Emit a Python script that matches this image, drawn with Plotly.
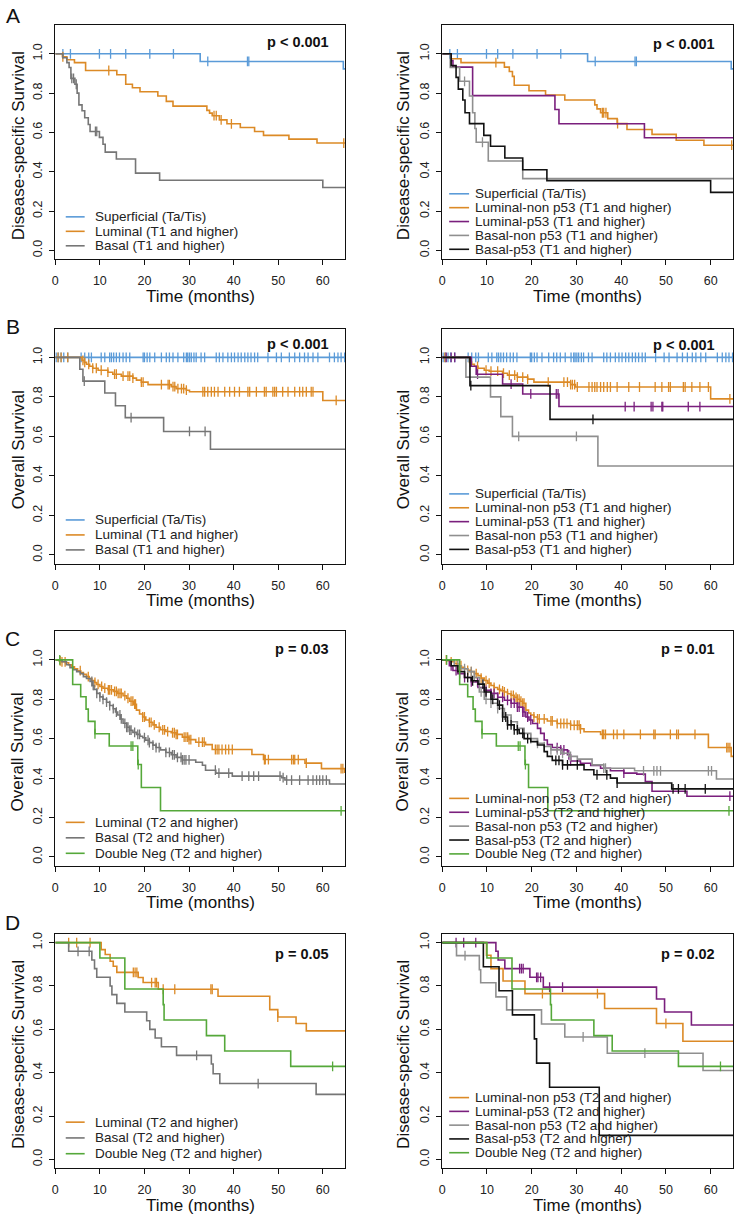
import numpy as np
import plotly.graph_objects as go

FONT = "Liberation Sans, Arial, Helvetica, sans-serif"
W, H = 735, 1217

C_SUP = "#5b9bd8"
C_LUM = "#dc8a26"
C_LP53 = "#7a1f7d"
C_BAS = "#767676"
C_BNP = "#8f8f8f"
C_BP53 = "#111111"
C_DN = "#55a83a"

X_END = 65
FOLLOW_END = 66

# ---------------- Panel A (disease-specific, T1 and higher) ----------------
A_SUP_T = [32.5, 64.6]
A_SUP_S = [0.961, 0.923]
A_SUP_C = [1.7, 3.4, 9.9, 12.4, 15.8, 21.2, 26.5, 34.2, 43.1, 43.4]

A_LUM_T = [1.6, 2.6, 4.3, 6.8, 13.8, 15.8, 17.3, 19.0, 23.0, 24.9, 26.4, 34.0, 34.6, 35.2, 36.8,
           38.5, 41.5, 44.7, 46.7, 52.4, 58.7]
A_LUM_S = [0.985, 0.97, 0.955, 0.915, 0.893, 0.845, 0.827, 0.807, 0.785, 0.758, 0.734, 0.712, 0.698,
           0.685, 0.664, 0.644, 0.625, 0.605, 0.585, 0.566, 0.546]
A_LUM_C = [1.7, 12.0, 35.6, 36.1, 37.2, 39.5, 64.7]

A_BAS_T = [1.7, 2.6, 3.1, 3.5, 4.4, 4.9, 5.3, 6.0, 6.6, 7.4, 7.8, 9.9, 10.7, 11.2, 13.7, 18.0, 23.4, 60.0]
A_BAS_S = [0.98, 0.955, 0.93, 0.875, 0.845, 0.80, 0.74, 0.71, 0.675, 0.64, 0.605, 0.575, 0.54, 0.50,
           0.465, 0.393, 0.357, 0.32]
A_BAS_C = [3.7, 4.1, 4.7, 9.0, 9.3]

A_LNP_T = [2.0, 4.2, 13.9, 15.0, 15.7, 16.1, 19.4, 23.1, 27.4, 34.1, 34.6, 35.4, 37.0, 39.1, 41.3,
           46.9, 52.3, 58.5]
A_LNP_S = [0.975, 0.955, 0.932, 0.91, 0.885, 0.84, 0.812, 0.79, 0.765, 0.74, 0.72, 0.70, 0.67, 0.645,
           0.615, 0.59, 0.56, 0.535]
A_LNP_C = [12.0, 35.8, 36.1, 36.6, 39.2, 64.7]

A_LP_T = [2.0, 2.4, 6.8, 25.2, 26.1, 45.2]
A_LP_S = [0.965, 0.932, 0.787, 0.717, 0.644, 0.573]
A_LP_C = []

A_BNP_T = [1.8, 3.9, 6.1, 6.8, 7.3, 7.6, 10.3, 18.0]
A_BNP_S = [0.93, 0.86, 0.785, 0.70, 0.62, 0.55, 0.455, 0.365]
A_BNP_C = [5.0, 9.0]

A_BP_T = [2.0, 3.1, 3.6, 4.6, 5.1, 6.1, 9.3, 10.8, 14.0, 18.0, 23.4, 60.0]
A_BP_S = [0.94, 0.88, 0.82, 0.765, 0.70, 0.645, 0.585, 0.53, 0.47, 0.41, 0.355, 0.295]
A_BP_C = []

# ---------------- Panel B (overall, T1 and higher) ----------------
B_SUP_T = []
B_SUP_S = []
B_SUP_C = [0.2, 0.7, 1.3, 1.9, 2.8, 5.8, 6.6, 7.5, 8.1, 10.3, 11.1, 12.2, 12.6, 13.1, 13.7, 14.4, 15.2,
           15.9, 16.7, 19.7, 20.0, 20.6, 21.2, 22.3, 23.8, 24.9, 25.6, 26.4, 27.5, 28.8, 29.4, 29.7,
           30.1, 30.5, 31.1, 31.6, 32.7, 33.5, 36.1, 36.8, 37.6, 38.7, 39.5, 40.2, 41.0, 41.7, 42.5,
           43.2, 43.9, 44.7, 45.4, 47.7, 49.6, 50.7, 52.5, 53.7, 54.8, 55.9, 56.7, 57.8, 58.9, 61.5,
           62.6, 63.4, 64.1, 64.9]

B_LUM_T = [6.0, 6.5, 7.0, 7.7, 8.4, 9.6, 11.8, 12.9, 14.8, 17.4, 18.2, 19.3, 20.8, 26.0, 27.1, 29.4,
           30.1, 60.0]
B_LUM_S = [0.985, 0.975, 0.965, 0.955, 0.945, 0.935, 0.925, 0.915, 0.905, 0.895, 0.885, 0.875, 0.862,
           0.852, 0.842, 0.834, 0.826, 0.782]
B_LUM_C = [0.6, 1.3, 2.8, 6.2, 6.6, 7.5, 8.4, 9.2, 10.3, 11.8, 13.3, 13.7, 15.2, 16.3, 16.7, 17.4, 19.3,
           19.7, 23.8, 25.3, 25.6, 26.4, 26.8, 27.5, 28.3, 28.8, 29.4, 33.1, 33.5, 34.2, 35.0, 35.7,
           36.5, 38.0, 39.1, 40.2, 41.3, 43.2, 43.6, 45.1, 46.9, 47.3, 48.8, 49.2, 49.6, 51.0, 52.2,
           53.7, 54.8, 55.5, 56.3, 57.4, 57.8, 63.0]

B_BAS_T = [5.5, 6.2, 11.1, 13.5, 15.7, 24.3, 34.8]
B_BAS_S = [0.94, 0.88, 0.82, 0.755, 0.695, 0.625, 0.535]
B_BAS_C = [6.5, 17.0, 30.1, 33.6]

B_LNP_T = [6.1, 6.6, 7.2, 8.0, 9.4, 10.5, 13.5, 14.6, 16.8, 19.1, 20.5, 28.7, 29.8, 60.0]
B_LNP_S = [0.975, 0.965, 0.955, 0.945, 0.935, 0.93, 0.92, 0.91, 0.90, 0.89, 0.875, 0.862, 0.85, 0.79]
B_LNP_C = [0.6, 6.3, 7.9, 9.8, 10.9, 12.4, 13.7, 15.0, 16.2, 16.8, 18.0, 19.1, 23.7, 27.2, 28.0, 28.7,
           29.1, 29.6, 30.2, 32.8, 33.5, 34.1, 34.6, 35.4, 36.1, 36.9, 37.6, 39.1, 41.7, 44.1, 47.6,
           49.1, 50.6, 51.0, 53.9, 54.3, 55.8, 57.6, 59.5, 64.3]

B_LP_T = [6.5, 7.6, 13.5, 18.0, 26.1]
B_LP_S = [0.955, 0.915, 0.865, 0.815, 0.751]
B_LP_C = [0.9, 2.0, 2.8, 7.9, 15.4, 19.8, 25.5, 25.9, 40.9, 42.9, 46.7, 47.1, 49.1, 49.3, 55.0, 57.6]

B_BNP_T = [5.3, 10.8, 13.1, 15.7, 34.8]
B_BNP_S = [0.90, 0.80, 0.70, 0.60, 0.45]
B_BNP_C = [17.1, 30.0]

B_BP_T = [6.2, 24.1]
B_BP_S = [0.857, 0.686]
B_BP_C = [6.4, 33.7]

# ---------------- Panel C (overall, T2 and higher) ----------------
C_LUM_T = [0.8, 1.5, 2.3, 3.0, 3.6, 4.3, 5.0, 5.7, 6.3, 7.0, 7.6, 8.2, 8.8, 9.3, 10.0, 10.7, 11.8,
           13.0, 14.0, 15.2, 16.0, 16.7, 17.5, 18.2, 18.9, 19.6, 20.3, 21.1, 21.9, 22.6, 23.6, 24.8,
           26.0, 27.1, 28.5, 30.0, 31.5, 33.7, 35.2, 44.1, 46.7, 56.0, 59.7, 64.9]
C_LUM_S = [0.995, 0.99, 0.985, 0.975, 0.965, 0.955, 0.945, 0.935, 0.926, 0.915, 0.905, 0.895, 0.885,
           0.875, 0.865, 0.856, 0.848, 0.84, 0.83, 0.818, 0.805, 0.79, 0.775, 0.745, 0.725, 0.71,
           0.695, 0.683, 0.67, 0.658, 0.645, 0.636, 0.63, 0.622, 0.608, 0.595, 0.582, 0.57, 0.545,
           0.52, 0.494, 0.476, 0.448, 0.43]
C_LUM_C = [1.1, 1.5, 2.2, 5.6, 7.4, 8.9, 9.6, 10.4, 11.1, 11.9, 12.2, 12.6, 13.3, 13.7, 14.1, 14.5,
           14.8, 15.6, 16.3, 17.0, 17.4, 17.8, 18.0, 19.6, 20.0, 21.1, 21.5, 22.2, 23.3, 24.1, 24.5,
           25.2, 26.3, 26.7, 27.1, 27.4, 28.9, 29.3, 29.7, 30.0, 30.4, 32.2, 33.0, 33.4, 35.9, 36.3,
           36.7, 37.4, 38.2, 38.9, 39.7, 46.9, 47.1, 47.8, 53.0, 53.4, 53.7, 54.5, 56.3, 64.1, 64.5]

C_BAS_T = [1.5, 2.5, 3.3, 4.0, 4.8, 5.6, 6.3, 7.0, 7.8, 8.3, 8.7, 9.3, 10.0, 10.7, 11.5, 12.2, 13.0,
           13.5, 14.0, 14.6, 15.2, 16.0, 16.7, 17.4, 18.2, 19.0, 19.6, 20.3, 21.1, 21.9, 22.6, 23.6,
           24.8, 26.0, 27.1, 28.5, 31.5, 33.0, 33.7, 36.0, 39.7, 50.8, 51.5, 61.5]
C_BAS_S = [0.99, 0.975, 0.96, 0.95, 0.94, 0.93, 0.915, 0.905, 0.89, 0.87, 0.85, 0.83, 0.812, 0.80,
           0.785, 0.768, 0.752, 0.735, 0.72, 0.70, 0.678, 0.658, 0.643, 0.632, 0.622, 0.612, 0.605,
           0.592, 0.58, 0.567, 0.555, 0.543, 0.53, 0.518, 0.505, 0.492, 0.48, 0.465, 0.44, 0.425,
           0.41, 0.402, 0.39, 0.37]
C_BAS_C = [8.2, 8.5, 9.3, 10.0, 10.7, 11.5, 12.2, 13.0, 13.7, 14.5, 14.8, 15.6, 16.0, 16.3, 16.7,
           17.0, 17.8, 18.5, 18.9, 20.0, 20.8, 21.1, 21.9, 22.6, 23.3, 24.8, 25.6, 26.3, 26.7, 27.4,
           28.2, 28.5, 28.9, 29.3, 30.0, 35.9, 36.7, 38.9, 41.9, 43.4, 44.5, 45.6, 50.4, 51.1, 51.9,
           53.0, 54.8, 56.7, 57.8, 58.6, 59.3, 60.0, 60.8]

C_DN_T = [3.9, 5.7, 6.9, 7.4, 8.9, 12.1, 18.5, 19.3, 23.6]
C_DN_S = [0.875, 0.8125, 0.75, 0.6875, 0.625, 0.5625, 0.469, 0.352, 0.234]
C_DN_C = [1.0, 8.9, 17.0, 17.4, 18.6, 64.1]

C_LNP_T = [1.0, 2.0, 2.8, 3.5, 4.3, 5.0, 5.7, 6.5, 7.2, 8.0, 8.7, 9.4, 10.2, 10.9, 11.6, 12.4, 13.1,
           13.9, 14.6, 15.4, 16.1, 16.8, 17.4, 18.0, 18.7, 19.3, 19.8, 20.5, 21.3, 23.5, 25.7, 28.7,
           30.9, 31.7, 35.4, 59.5, 64.6]
C_LNP_S = [0.995, 0.99, 0.98, 0.97, 0.962, 0.955, 0.947, 0.94, 0.93, 0.92, 0.907, 0.895, 0.882, 0.87,
           0.86, 0.85, 0.843, 0.837, 0.828, 0.82, 0.81, 0.80, 0.79, 0.78, 0.745, 0.73, 0.72, 0.71,
           0.70, 0.69, 0.677, 0.668, 0.65, 0.635, 0.622, 0.555, 0.51]
C_LNP_C = [0.9, 2.0, 3.3, 4.2, 5.7, 6.5, 7.6, 8.7, 9.8, 10.5, 11.6, 12.8, 13.5, 13.9, 14.6, 15.4, 15.9,
           16.5, 16.8, 17.2, 17.6, 18.0, 18.3, 20.5, 21.3, 21.7, 22.8, 24.3, 24.6, 25.7, 26.5, 27.2,
           27.9, 28.7, 29.5, 30.2, 30.6, 30.9, 35.8, 36.1, 36.5, 38.3, 39.1, 40.6, 44.3, 47.3, 47.6,
           51.0, 52.4, 52.8, 56.5, 63.6, 63.9, 64.3]

C_LP_T = [1.6, 2.4, 3.5, 5.0, 6.5, 8.0, 9.4, 10.9, 12.4, 13.9, 15.4, 16.8, 18.0, 18.7, 19.4, 20.2,
          21.3, 22.0, 22.8, 23.5, 24.6, 26.5, 28.0, 28.7, 30.9, 33.2, 35.4, 37.6, 40.6, 43.5, 45.4,
          46.9, 54.7]
C_LP_S = [0.97, 0.946, 0.93, 0.91, 0.888, 0.86, 0.845, 0.83, 0.81, 0.795, 0.78, 0.76, 0.735, 0.71,
          0.695, 0.677, 0.652, 0.627, 0.593, 0.57, 0.555, 0.543, 0.518, 0.487, 0.475, 0.464, 0.45,
          0.437, 0.425, 0.42, 0.383, 0.333, 0.308]
C_LP_C = [2.0, 3.1, 3.9, 5.0, 6.5, 7.9, 9.8, 10.9, 11.6, 12.4, 13.5, 14.6, 15.4, 16.1, 16.8, 17.2,
          18.0, 18.3, 19.1, 19.8, 25.7, 26.5, 27.2, 28.3, 28.7, 40.6, 64.3]

C_BNP_T = [2.7, 4.2, 5.7, 7.2, 8.3, 9.4, 10.9, 12.4, 13.9, 15.4, 16.8, 18.3, 19.8, 21.3, 22.8, 24.3,
           26.5, 28.3, 30.2, 33.5, 36.1, 43.0, 61.3]
C_BNP_S = [0.97, 0.955, 0.94, 0.91, 0.837, 0.80, 0.78, 0.753, 0.72, 0.686, 0.652, 0.627, 0.60, 0.576,
           0.56, 0.543, 0.526, 0.51, 0.496, 0.467, 0.45, 0.437, 0.395]
C_BNP_C = [3.5, 5.0, 6.5, 7.2, 8.7, 9.8, 10.9, 12.4, 13.9, 15.4, 16.8, 18.3, 19.8, 21.3, 22.8, 24.3,
           25.7, 26.9, 28.7, 36.1, 36.5, 45.0, 47.3, 48.0, 48.8, 59.5, 60.2]

C_BP_T = [2.0, 3.5, 5.0, 6.5, 8.0, 9.4, 10.9, 12.4, 13.5, 14.6, 16.1, 17.2, 18.3, 19.8, 21.3, 22.8,
          23.5, 24.6, 26.9, 31.7, 33.9, 37.6, 39.1, 51.3]
C_BP_S = [0.97, 0.94, 0.91, 0.894, 0.877, 0.837, 0.80, 0.77, 0.71, 0.67, 0.645, 0.627, 0.60, 0.585,
          0.568, 0.534, 0.51, 0.49, 0.467, 0.442, 0.417, 0.40, 0.375, 0.345]
C_BP_C = [5.7, 6.8, 9.1, 9.8, 11.3, 12.8, 13.5, 14.2, 14.6, 15.4, 16.1, 16.8, 18.0, 19.1, 25.4, 26.1,
          26.9, 28.0, 30.2, 34.6, 36.8, 39.1, 51.6, 52.8, 54.3, 58.8]

# ---------------- Panel D (disease-specific, T2 and higher) ----------------
D_LUM_T = [10.3, 11.2, 12.3, 13.0, 13.8, 18.6, 19.7, 23.1, 36.5, 48.1, 49.9, 54.0, 56.3]
D_LUM_S = [0.968, 0.945, 0.914, 0.891, 0.863, 0.839, 0.816, 0.785, 0.753, 0.691, 0.657, 0.627, 0.593]
D_LUM_C = [3.0, 4.8, 7.8, 17.5, 17.9, 18.3, 21.6, 22.4, 22.7, 24.2, 26.8, 34.9, 35.2, 49.9]

D_BAS_T = [3.0, 8.2, 8.8, 9.3, 12.3, 12.7, 13.8, 15.6, 20.5, 21.2, 22.4, 23.8, 27.2, 35.0, 35.4, 36.9, 58.5]
D_BAS_S = [0.96, 0.92, 0.88, 0.84, 0.80, 0.76, 0.72, 0.68, 0.64, 0.60, 0.56, 0.52, 0.48, 0.44, 0.395,
           0.35, 0.30]
D_BAS_C = [5.1, 7.6, 31.7, 45.5]

D_DN_T = [10.0, 15.6, 24.2, 24.4, 33.9, 38.0, 52.8]
D_DN_S = [0.929, 0.786, 0.714, 0.643, 0.571, 0.50, 0.429]
D_DN_C = [62.2]

D_LNP_T = [9.9, 10.9, 13.6, 18.5, 36.3, 47.9, 53.8]
D_LNP_S = [0.942, 0.88, 0.823, 0.765, 0.696, 0.627, 0.545]
D_LNP_C = [22.4, 34.7, 50.0]

D_LP_T = [12.0, 12.5, 14.0, 19.6, 22.6, 47.9, 49.7, 55.7]
D_LP_S = [0.96, 0.92, 0.88, 0.84, 0.795, 0.74, 0.68, 0.62]
D_LP_C = [3.1, 4.8, 7.5, 17.3, 17.7, 18.1, 21.1, 21.4, 22.0, 24.0, 26.9]

D_BNP_T = [3.2, 8.3, 8.6, 12.0, 14.4, 22.2, 27.4, 36.9, 58.3]
D_BNP_S = [0.94, 0.875, 0.815, 0.75, 0.69, 0.625, 0.565, 0.49, 0.41]
D_BNP_C = [5.1, 31.5, 45.3]

D_BP_T = [9.2, 12.7, 15.7, 20.6, 21.1, 24.0, 35.1]
D_BP_S = [0.889, 0.778, 0.667, 0.556, 0.444, 0.333, 0.111]
D_BP_C = []

# ---------------- labels ----------------
LEG_T1_3 = ["Superficial (Ta/Tis)", "Luminal (T1 and higher)", "Basal (T1 and higher)"]
LEG_T1_5 = ["Superficial (Ta/Tis)", "Luminal-non p53 (T1 and higher)", "Luminal-p53 (T1 and higher)",
            "Basal-non p53 (T1 and higher)", "Basal-p53 (T1 and higher)"]
LEG_T2_3 = ["Luminal (T2 and higher)", "Basal (T2 and higher)", "Double Neg (T2 and higher)"]
LEG_T2_5 = ["Luminal-non p53 (T2 and higher)", "Luminal-p53 (T2 and higher)",
            "Basal-non p53 (T2 and higher)", "Basal-p53 (T2 and higher)", "Double Neg (T2 and higher)"]
P_VALUES = ["p < 0.001", "p < 0.001", "p < 0.001", "p < 0.001", "p = 0.03", "p = 0.01", "p = 0.05", "p = 0.02"]
Y_TITLES = ["Disease-specific Survival", "Disease-specific Survival", "Overall Survival",
            "Overall Survival", "Overall Survival", "Overall Survival",
            "Disease-specific Survival", "Disease-specific Survival"]
X_TITLE = "Time (months)"
LETTERS = ["A", "B", "C", "D"]
X_TICKS = [0, 10, 20, 30, 40, 50, 60]
Y_TICKS = [0.0, 0.2, 0.4, 0.6, 0.8, 1.0]

# ---------------- layout geometry (pixels) ----------------
LEFT_BOX = (52.5, 343.5)
RIGHT_BOX = (441.0, 733.0)
ROWS = [(23.5, 257.5), (327.5, 562.5), (630.5, 865.0), (933.5, 1168.0)]
YR_STD = [-0.044, 1.144]
YR_D = [-0.04, 1.04]


def px(x):
    return x / W


def py(y):
    return 1 - y / H


panels = [
    dict(curves=[(A_SUP_T, A_SUP_S, A_SUP_C, C_SUP), (A_LUM_T, A_LUM_S, A_LUM_C, C_LUM),
                 (A_BAS_T, A_BAS_S, A_BAS_C, C_BAS)],
         legend=(LEG_T1_3, [C_SUP, C_LUM, C_BAS]), leg=(-13.3, 14.5), pv_y=40.0),
    dict(curves=[(A_SUP_T, A_SUP_S, A_SUP_C, C_SUP), (A_LNP_T, A_LNP_S, A_LNP_C, C_LUM),
                 (A_LP_T, A_LP_S, A_LP_C, C_LP53), (A_BNP_T, A_BNP_S, A_BNP_C, C_BNP),
                 (A_BP_T, A_BP_S, A_BP_C, C_BP53)],
         legend=(LEG_T1_5, [C_SUP, C_LUM, C_LP53, C_BNP, C_BP53]), leg=(-9.8, 13.9), pv_y=41.7),
    dict(curves=[(B_SUP_T, B_SUP_S, B_SUP_C, C_SUP), (B_LUM_T, B_LUM_S, B_LUM_C, C_LUM),
                 (B_BAS_T, B_BAS_S, B_BAS_C, C_BAS)],
         legend=(LEG_T1_3, [C_SUP, C_LUM, C_BAS]), leg=(-13.7, 15.0), pv_y=342.7),
    dict(curves=[(B_SUP_T, B_SUP_S, B_SUP_C, C_SUP), (B_LNP_T, B_LNP_S, B_LNP_C, C_LUM),
                 (B_LP_T, B_LP_S, B_LP_C, C_LP53), (B_BNP_T, B_BNP_S, B_BNP_C, C_BNP),
                 (B_BP_T, B_BP_S, B_BP_C, C_BP53)],
         legend=(LEG_T1_5, [C_SUP, C_LUM, C_LP53, C_BNP, C_BP53]), leg=(-14.2, 13.9), pv_y=343.3),
    dict(curves=[(C_LUM_T, C_LUM_S, C_LUM_C, C_LUM), (C_BAS_T, C_BAS_S, C_BAS_C, C_BAS),
                 (C_DN_T, C_DN_S, C_DN_C, C_DN)],
         legend=(LEG_T2_3, [C_LUM, C_BAS, C_DN]), leg=(-12.3, 15.5), pv_y=648.3),
    dict(curves=[(C_LNP_T, C_LNP_S, C_LNP_C, C_LUM), (C_LP_T, C_LP_S, C_LP_C, C_LP53),
                 (C_BNP_T, C_BNP_S, C_BNP_C, C_BNP), (C_BP_T, C_BP_S, C_BP_C, C_BP53),
                 (C_DN_T, C_DN_S, C_DN_C, C_DN)],
         legend=(LEG_T2_5, [C_LUM, C_LP53, C_BNP, C_BP53, C_DN]), leg=(-11.7, 13.9), pv_y=648.3),
    dict(curves=[(D_LUM_T, D_LUM_S, D_LUM_C, C_LUM), (D_BAS_T, D_BAS_S, D_BAS_C, C_BAS),
                 (D_DN_T, D_DN_S, D_DN_C, C_DN)],
         legend=(LEG_T2_3, [C_LUM, C_BAS, C_DN]), leg=(-14.4, 15.8), pv_y=953.3),
    dict(curves=[(D_LNP_T, D_LNP_S, D_LNP_C, C_LUM), (D_LP_T, D_LP_S, D_LP_C, C_LP53),
                 (D_BNP_T, D_BNP_S, D_BNP_C, C_BNP), (D_BP_T, D_BP_S, D_BP_C, C_BP53),
                 (D_DN_T, D_DN_S, D_DN_C, C_DN)],
         legend=(LEG_T2_5, [C_LUM, C_LP53, C_BNP, C_BP53, C_DN]), leg=(-15.4, 13.8), pv_y=953.3),
]


def surv_at(t_ev, s_ev, tc):
    t_ev = np.asarray(t_ev, dtype=float)
    levels = np.concatenate([[1.0], np.asarray(s_ev, dtype=float)])
    idx = np.searchsorted(t_ev, np.asarray(tc, dtype=float), side="right")
    return levels[idx]


fig = go.Figure()
layout = dict(width=W, height=H, margin=dict(l=0, r=0, t=0, b=0), autosize=False,
              paper_bgcolor="white", plot_bgcolor="white", showlegend=False,
              font=dict(family=FONT, color="#111"))
annotations = []
shapes = []

for k, p in enumerate(panels):
    row = k // 2
    box_x = LEFT_BOX if k % 2 == 0 else RIGHT_BOX
    box_y = ROWS[row]
    yr = YR_D if row == 3 else YR_STD
    ax_id = "" if k == 0 else str(k + 1)
    xa, ya = "x" + ax_id, "y" + ax_id

    for t, s, c, col in p["curves"]:
        xs = [0.0] + list(t) + [FOLLOW_END]
        ys = [1.0] + list(s) + [s[-1] if len(s) else 1.0]
        fig.add_trace(go.Scatter(x=xs, y=ys, mode="lines", line=dict(color=col, width=1.6, shape="hv"),
                                 xaxis=xa, yaxis=ya, hoverinfo="skip"))
        if len(c):
            fig.add_trace(go.Scatter(x=list(c), y=surv_at(t, s, c), mode="markers",
                                     marker=dict(symbol="line-ns-open", size=7, color=col,
                                                 line=dict(color=col, width=1.3)),
                                     xaxis=xa, yaxis=ya, hoverinfo="skip"))

    common = dict(showgrid=False, zeroline=False, showline=True, mirror=True, linecolor="#111",
                  linewidth=1.2, ticks="outside", ticklen=5, tickwidth=1, tickcolor="#111",
                  tickfont=dict(family=FONT, size=12.5, color="#222"))
    layout["xaxis" + ax_id] = dict(domain=[px(box_x[0]), px(box_x[1])], range=[0, X_END],
                                   anchor=ya, tickvals=X_TICKS, ticklabelstandoff=5, **common)
    layout["yaxis" + ax_id] = dict(domain=[py(box_y[1]), py(box_y[0])], range=yr, anchor=xa,
                                   tickvals=Y_TICKS, tickformat=".1f", tickangle=-90,
                                   ticklabelstandoff=2, **common)

    # axis titles
    annotations.append(dict(text=X_TITLE, x=px((box_x[0] + box_x[1]) / 2), y=py(box_y[1] + 37),
                            xref="paper", yref="paper", showarrow=False, xanchor="center",
                            yanchor="middle", font=dict(size=17, family=FONT, color="#111")))
    ytx = box_x[0] - (37.5 if k % 2 == 0 else 39.5)
    annotations.append(dict(text=Y_TITLES[k], x=px(ytx), y=py((box_y[0] + box_y[1]) / 2 + 3),
                            xref="paper", yref="paper", showarrow=False, textangle=-90,
                            xanchor="center", yanchor="middle",
                            font=dict(size=17, family=FONT, color="#111")))
    # p value
    pv_right = box_x[1] - (14.5 if k % 2 == 0 else 16.3)
    annotations.append(dict(text="<b>" + P_VALUES[k] + "</b>", x=px(pv_right), y=py(p["pv_y"]),
                            xref="paper", yref="paper", showarrow=False, xanchor="right",
                            yanchor="middle", font=dict(size=14.5, family=FONT, color="#111")))
    # legend
    labels, cols = p["legend"]
    off, sp = p["leg"]
    n = len(labels)
    if k % 2 == 0:
        lx0, lx1, tx = box_x[0] + 10.5, box_x[0] + 29.5, box_x[0] + 38.0
    else:
        lx0, lx1, tx = box_x[0] + 7.0, box_x[0] + 27.0, box_x[0] + 31.0
    for i, (lab, col) in enumerate(zip(labels, cols)):
        yy = box_y[1] + off - (n - 1 - i) * sp
        shapes.append(dict(type="line", xref="paper", yref="paper", x0=px(lx0), x1=px(lx1),
                           y0=py(yy), y1=py(yy), line=dict(color=col, width=1.6)))
        annotations.append(dict(text=lab, x=px(tx), y=py(yy), xref="paper", yref="paper",
                                showarrow=False, xanchor="left", yanchor="middle",
                                font=dict(size=13.5, family=FONT, color="#222")))

LETTER_Y = [14.0, 325.0, 638.0, 922.0]
for L, ly in zip(LETTERS, LETTER_Y):
    annotations.append(dict(text=L, x=px(10), y=py(ly), xref="paper", yref="paper", showarrow=False,
                            xanchor="center", yanchor="middle",
                            font=dict(size=21, family=FONT, color="#111")))

layout["annotations"] = annotations
layout["shapes"] = shapes
fig.update_layout(**layout)
fig.write_html("out.html", config={"displayModeBar": False, "staticPlot": True},
               post_script="document.body.style.margin='0px';document.body.style.overflow='hidden';")
